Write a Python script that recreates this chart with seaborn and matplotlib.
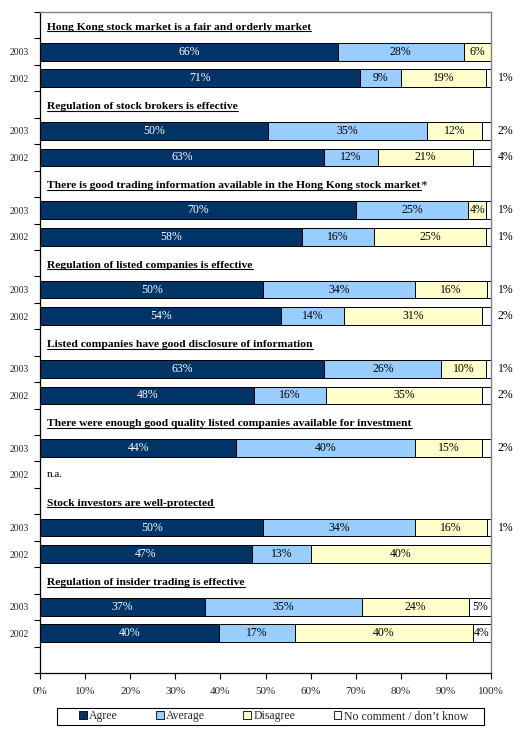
import numpy as np
import pandas as pd
import matplotlib
matplotlib.use("Agg")
import matplotlib.pyplot as plt
import matplotlib.transforms as mtransforms
from matplotlib.patches import Patch, Rectangle
from matplotlib.lines import Line2D
from matplotlib.ticker import FixedLocator, FixedFormatter, FuncFormatter
import seaborn as sns

# ---------------- data ----------------
statements = [
    "Hong Kong stock market is a fair and orderly market",
    "Regulation of stock brokers is effective",
    "There is good trading information available in the Hong Kong stock market",
    "Regulation of listed companies is effective",
    "Listed companies have good disclosure of information",
    "There were enough good quality listed companies available for investment",
    "Stock investors are well-protected",
    "Regulation of insider trading is effective",
]
title_suffix = ["", "", "*", "", "", "", "", ""]
years = ["2003", "2002"]
categories = ["Agree", "Average", "Disagree", "No comment / don\u2019t know"]

agree_2003 = [66, 50, 70, 50, 63, 44, 50, 37]
average_2003 = [28, 35, 25, 34, 26, 40, 34, 35]
disagree_2003 = [6, 12, 4, 16, 10, 15, 16, 24]
nocomment_2003 = [0, 2, 1, 1, 1, 2, 1, 5]

agree_2002 = [71, 63, 58, 54, 48, None, 47, 40]
average_2002 = [9, 12, 16, 14, 16, None, 13, 17]
disagree_2002 = [19, 21, 25, 31, 35, None, 40, 40]
nocomment_2002 = [1, 4, 1, 2, 2, None, 0, 4]

na_text = "n.a."
x_ticks = list(range(0, 101, 10))
nc_label_inside = [False, False, False, False, False, False, False, True]

colors = ["#003366", "#99CCFF", "#FFFFCC", "#FFFFFF"]

# ---------------- build table ----------------
series = {
    "2003": [agree_2003, average_2003, disagree_2003, nocomment_2003],
    "2002": [agree_2002, average_2002, disagree_2002, nocomment_2002],
}
slot_names, slot_labels, rows, na_slots = [], [], [], []
for g in range(len(statements)):
    slot_names.append(f"title_{g}")
    slot_labels.append("")
    for yr in years:
        name = f"{yr}_{g}"
        slot_names.append(name)
        slot_labels.append(yr)
        vals = [s[g] for s in series[yr]]
        if vals[0] is None:
            na_slots.append(name)
            continue
        tot = float(sum(vals))
        shares = [v / tot * 100 for v in vals]
        cum = np.cumsum(shares)
        row = {"slot": name, "group": g, "year": yr}
        for k in range(4):
            row[f"val{k}"] = vals[k]
            row[f"share{k}"] = shares[k]
            row[f"cum{k}"] = cum[k]
        rows.append(row)
slot_names.append("end")
slot_labels.append("")
df = pd.DataFrame(rows)
pos = {n: i for i, n in enumerate(slot_names)}

# ---------------- plot ----------------
sns.set_theme(style="white")
plt.rcParams["font.family"] = ["Liberation Serif", "DejaVu Serif"]

W, H = 527, 734
fig = plt.figure(figsize=(W / 100, H / 100), dpi=100)
ax = fig.add_axes([40 / W, 1 - 673 / H, 451 / W, 661 / H])

for k in reversed(range(4)):
    sns.barplot(data=df, x=f"cum{k}", y="slot", order=slot_names, orient="h",
                color=colors[k], saturation=1, edgecolor="black", linewidth=0.7,
                width=0.67, errorbar=None, ax=ax)

ax.set_xlim(0, 100)
ax.set_ylim(len(slot_names) - 0.5, -0.5)
ax.set_xlabel("")
ax.set_ylabel("")

ax.xaxis.set_major_locator(FixedLocator(x_ticks))
ax.xaxis.set_major_formatter(FuncFormatter(lambda v, p: f"{v:.0f}%"))
ax.tick_params(axis="x", which="major", bottom=True, length=4, width=0.8,
               direction="out", labelsize=8, pad=6, color="black")

ax.yaxis.set_major_locator(FixedLocator(np.arange(-0.5, len(slot_names), 1.0)))
ax.yaxis.set_major_formatter(FixedFormatter([""] * (len(slot_names) + 1)))
ax.yaxis.set_minor_locator(FixedLocator([i for i, l in enumerate(slot_labels) if l]))
ax.yaxis.set_minor_formatter(FixedFormatter([l for l in slot_labels if l]))
ax.tick_params(axis="y", which="major", left=True, length=4, width=0.8,
               direction="out", color="black")
ax.tick_params(axis="y", which="minor", left=True, length=0, labelsize=7, pad=8)

for side in ["left", "bottom"]:
    ax.spines[side].set_color("black")
    ax.spines[side].set_linewidth(0.9)
for side in ["top", "right"]:
    ax.spines[side].set_color("#808080")
    ax.spines[side].set_linewidth(1.0)

# value labels
for _, r in df.iterrows():
    y = pos[r["slot"]]
    for k in range(4):
        v = r[f"val{k}"]
        if v <= 0:
            continue
        xc = r[f"cum{k}"] - r[f"share{k}"] / 2
        if k == 3 and not nc_label_inside[int(r["group"])]:
            xc = 103.2
        ax.text(xc, y, f"{int(v)}%", ha="center", va="center", fontsize=8.5,
                color="white" if k == 0 else "black", clip_on=False)

blend = mtransforms.blended_transform_factory(ax.transAxes, ax.transData)
title_texts = []
for g, st in enumerate(statements):
    t = ax.text(0.016, 3 * g + 0.17, st, transform=blend, ha="left", va="baseline",
                fontsize=8.25, fontweight="bold", color="black")
    title_texts.append(t)
for name in na_slots:
    ax.text(0.016, pos[name], na_text, transform=blend, ha="left", va="center",
            fontsize=8, color="black")

# legend (frameless) inside a separately drawn box
handles = [Patch(facecolor=c, edgecolor="black", linewidth=0.6) for c in colors]
leg = fig.legend(handles, categories, loc="center",
                 bbox_to_anchor=(273.5 / W, 1 - 716.5 / H),
                 ncol=4, frameon=False, fontsize=8.5,
                 handlelength=0.65, handleheight=0.65, handletextpad=0.2,
                 columnspacing=3.25, borderpad=0, borderaxespad=0)
fig.add_artist(Rectangle((57 / W, 1 - 725 / H), 427 / W, 17 / H,
                         transform=fig.transFigure, facecolor="none",
                         edgecolor="black", linewidth=0.8))

# underline titles
fig.canvas.draw()
renderer = fig.canvas.get_renderer()
for g, t in enumerate(title_texts):
    bb = t.get_window_extent(renderer)
    base = t.get_transform().transform(t.get_position())[1]
    yu = (base - 1.6) / H
    fig.add_artist(Line2D([bb.x0 / W, bb.x1 / W], [yu, yu], color="black", lw=0.8))
    if title_suffix[g]:
        fig.text(bb.x1 / W, base / H, title_suffix[g], ha="left", va="baseline",
                 fontsize=9.5, color="black")

fig.savefig("out.png", dpi=100)
